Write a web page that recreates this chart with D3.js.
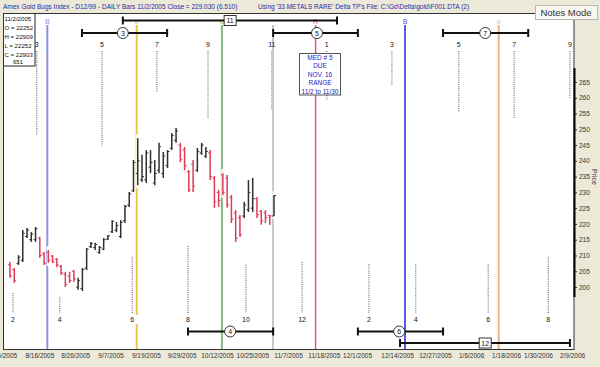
<!DOCTYPE html>
<html>
<head>
<meta charset="utf-8">
<script src="https://cdn.jsdelivr.net/npm/d3@7"></script>
<style>
  body { margin: 0; background: #ECE9D8; }
  svg { display: block; font-family: "Liberation Sans", Arial, sans-serif; }
</style>
</head>
<body>
<svg id="chart" width="600" height="367"></svg>
<script>
'use strict';

// daily bars, 8/5/2005 .. 11/2/2005
const barOpen  = [207.0,205.5,207.5,208.5,216.0,215.0,215.0,215.5,210.5,211.0,209.8,208.8,206.5,204.0,203.5,205.0,200.0,199.5,206.0,212.8,212.5,211.0,212.0,215.2,217.5,218.0,216.0,221.0,226.0,230.5,236.0,234.0,234.0,238.0,233.0,237.0,236.0,238.5,244.0,246.5,245.0,243.5,236.5,239.0,237.0,242.5,241.5,242.5,234.5,230.0,235.5,234.5,228.5,223.5,222.0,222.5,224.5,225.0,228.0,224.0,223.5,222.7,222.52];
const barHigh  = [207.9,206.0,210.1,218.1,218.7,217.4,219.0,215.9,211.1,211.7,210.1,209.2,207.0,204.8,204.8,205.4,202.9,206.0,212.4,214.3,214.0,213.0,215.5,216.5,221.2,220.6,221.2,226.0,230.1,240.3,247.2,241.9,243.4,243.4,240.3,245.7,242.8,243.4,248.8,250.4,245.7,244.4,237.1,240.3,244.1,245.7,244.4,243.4,235.2,230.8,236.1,235.5,229.2,224.4,222.8,227.0,233.9,234.6,228.5,224.4,224.4,222.8,229.09];
const barLow   = [202.9,201.3,207.0,207.9,215.5,214.3,214.3,209.2,207.0,207.6,207.6,206.3,203.8,200.0,201.3,201.6,199.1,198.7,205.4,212.4,211.7,210.5,211.7,214.9,217.1,217.4,215.5,220.3,225.4,230.1,232.3,233.3,233.0,236.1,232.3,236.1,234.6,237.7,243.4,245.7,239.6,237.1,230.1,230.1,236.5,241.9,240.9,233.9,225.1,225.4,229.2,225.1,220.3,214.3,215.9,221.9,223.8,223.8,221.9,219.7,220.3,219.7,222.52];
const barClose = [203.5,202.0,209.5,217.0,218.0,216.8,218.5,210.0,207.5,208.5,208.0,207.0,204.5,200.8,202.0,202.5,202.0,205.5,212.0,213.8,213.5,212.5,215.0,216.2,220.8,219.5,220.5,225.5,229.5,239.5,240.0,235.0,242.5,239.5,236.0,244.5,241.5,243.0,248.0,249.5,240.5,238.5,230.8,232.0,243.0,245.0,243.0,235.0,227.0,227.5,230.0,226.0,221.5,215.5,216.5,226.0,230.0,228.0,223.0,221.0,222.0,222.52,229.03];

// x axis labels and where they sit, in bar numbers
const dateLabels = ["8/5/2005","8/16/2005","8/26/2005","9/7/2005","9/19/2005","9/29/2005","10/12/2005","10/25/2005","11/7/2005","11/18/2005","12/1/2005","12/14/2005","12/27/2005","1/6/2006","1/18/2006","1/30/2006","2/9/2006"];
const dateIdx    = [-1.4,6.9,15.3,23.6,31.9,40.3,48.6,56.9,65.3,73.7,81.5,90.9,99.8,108.3,116.5,124.0,132.0];

const priceTicks = [200,205,210,215,220,225,230,235,240,245,250,255,260,265];

// turning point lines
const tpIdx   = [9, 30, 50, 62, 72, 93, 115];
const tpMark  = ["B", "o", "o", "", "R", "B", "o"];

// cycle counts (top row odd, bottom row even) with dotted extent in price
const topNums   = ["3","5","7","9","11","1","3","5","7","9"];
const topIdx    = [6.3,21.6,34.5,46.5,61.5,74.4,89.7,105.4,118.4,131.5];
const topDotEnd = [248.2,244.7,261.8,253.6,256.1,259.3,264.0,255.5,253.6,259.9];
const botNums   = ["2","4","6","8","10","12","2","4","6","8"];
const botIdx    = [0.7,11.7,28.7,41.8,55.4,68.6,84.3,95.3,112.3,126.4];
const botDotTop = [198.1,196.8,209.5,213.0,207.0,207.9,207.3,207.3,207.3,209.5];

// time bands
const bandLabel = ["11","3","5","7","4","6","12"];
const bandRow   = [0, 1, 1, 1, 2, 2, 3];
const bandStart = [26.5,16.9,61.8,101.7,41.8,81.7,91.6];
const bandEnd   = [76.8,36.9,81.7,121.7,61.8,101.7,131.5];
const bandMid   = [51.7,26.5,72.1,111.6,51.7,91.4,111.6];

const infoLines = ["11/2/2005","O = 22252","H = 22909","L = 22252","C = 22903"];
const medLines  = ["MED # 5","DUE","NOV. 16","RANGE","11/2 to 11/30"];

const svg = d3.select("#chart");
const frame = {left: 3, right: 574, top: 13, bottom: 349};

let x = d3.scaleLinear().domain([0, 62]).range([10, 274]);
let y = d3.scaleLinear().domain([200, 265]).range([287, 82]);

// title strip
svg.append("rect").attr("width", 600).attr("height", 367).attr("fill", "#ECE9D8");
svg.append("text").attr("x", 3).attr("y", 8.5)
	.attr("font-size", 6.5).attr("fill", "#2a2aa8")
	.text("Amex Gold Bugs Index - D12/99  - DAILY Bars  11/2/2005 Close = 229.030 (6.510)");
svg.append("text").attr("x", 258).attr("y", 8.5)
	.attr("font-size", 6.5).attr("fill", "#2a2aa8")
	.text("Using '33 METALS RARE' Delta TP's      File: C:\\Gd\\Delta\\gold\\F001.DTA (2)");

// plot area
svg.append("rect")
	.attr("x", frame.left).attr("y", frame.top)
	.attr("width", frame.right - frame.left).attr("height", frame.bottom - frame.top)
	.attr("fill", "#fff");

let g = svg.append("g");

// dotted count lines
let dots = g.append("g").attr("stroke", "#555").attr("stroke-width", 1).attr("stroke-dasharray", "1,1.2");
topIdx.forEach(function (d, i) {
	dots.append("line").attr("x1", x(d)).attr("x2", x(d)).attr("y1", 51).attr("y2", y(topDotEnd[i]));
});
botIdx.forEach(function (d, i) {
	dots.append("line").attr("x1", x(d)).attr("x2", x(d)).attr("y1", y(botDotTop[i])).attr("y2", 313);
});

// turning point lines
const tpColors = ["#9090e0", "#f0c24e", "#84b884", "#c8c8c8", "#e2587a", "#5858e6", "#f0b484"];
tpIdx.forEach(function (d, i) {
	g.append("line")
		.attr("x1", x(d) - 1).attr("x2", x(d) - 1)
		.attr("y1", 25).attr("y2", frame.bottom)
		.attr("stroke", tpColors[i]).attr("stroke-width", i == 4 ? 1.5 : 2);
	if (tpMark[i]) {
		g.append("text").attr("x", x(d) - 1).attr("y", 24)
			.attr("text-anchor", "middle").attr("font-size", 7)
			.attr("fill", tpColors[i]).text(tpMark[i]);
	}
});

// cycle numbers
let nums = g.append("g").attr("font-size", 7).attr("text-anchor", "middle").attr("fill", "#111");
topIdx.forEach(function (d, i) {
	nums.append("text").attr("x", x(d)).attr("y", 47).text(topNums[i]);
});
botIdx.forEach(function (d, i) {
	nums.append("rect").attr("x", x(d) - 6).attr("y", 315).attr("width", 12).attr("height", 9).attr("fill", "#fff");
	nums.append("text").attr("x", x(d)).attr("y", 322).text(botNums[i]);
});

// bars
let bars = g.append("g");
barHigh.forEach(function (h, i) {
	bars.append("line")
		.attr("x1", x(i)).attr("x2", x(i))
		.attr("y1", y(h) - 4).attr("y2", y(barLow[i]) + 3)
		.attr("stroke", "#fff").attr("stroke-width", 3);
});
barHigh.forEach(function (h, i) {
	let col = barClose[i] < barOpen[i] ? "#e03a56" : "#303030";
	let b = bars.append("g").attr("stroke", col).attr("stroke-width", 1.5);
	b.append("line").attr("x1", x(i)).attr("x2", x(i)).attr("y1", y(h)).attr("y2", y(barLow[i]));
	b.append("line").attr("x1", x(i) - 2).attr("x2", x(i)).attr("y1", y(barOpen[i])).attr("y2", y(barOpen[i])).attr("stroke-width", 1);
	b.append("line").attr("x1", x(i)).attr("x2", x(i) + 2).attr("y1", y(barClose[i])).attr("y2", y(barClose[i])).attr("stroke-width", 1);
});

// time bands
const bandY = [20.5, 33, 331.5, 343];
let bands = g.append("g");
bandLabel.forEach(function (lab, i) {
	let yy = bandY[bandRow[i]];
	let x0 = x(bandStart[i]), x1 = x(bandEnd[i]), xm = x(bandMid[i]);
	bands.append("line").attr("x1", x0).attr("x2", x1).attr("y1", yy).attr("y2", yy)
		.attr("stroke", "#111").attr("stroke-width", 2);
	[x0, x1].forEach(function (xe) {
		bands.append("line").attr("x1", xe).attr("x2", xe).attr("y1", yy - 4).attr("y2", yy + 4)
			.attr("stroke", "#111").attr("stroke-width", 2);
	});
	if (+lab > 10) {
		bands.append("rect").attr("x", xm - 6).attr("y", yy - 5).attr("width", 12).attr("height", 10)
			.attr("fill", "#fff").attr("stroke", "#333").attr("stroke-width", 1);
	} else {
		bands.append("circle").attr("cx", xm).attr("cy", yy).attr("r", 5.5)
			.attr("fill", "#fff").attr("stroke", "#333").attr("stroke-width", 1);
	}
	bands.append("text").attr("x", xm).attr("y", yy + 2.6)
		.attr("text-anchor", "middle").attr("font-size", 7).attr("fill", "#111").text(lab);
});

// MED note
let med = g.append("g");
med.append("rect").attr("x", 299.5).attr("y", 53.5).attr("width", 41).attr("height", 41.5)
	.attr("fill", "#fff").attr("stroke", "#555");
medLines.forEach(function (t, i) {
	med.append("text").attr("x", 320).attr("y", 60 + i * 8.4)
		.attr("text-anchor", "middle").attr("font-size", 6.5).attr("fill", "#2323c0").text(t);
});

// info box
let info = g.append("g");
info.append("rect").attr("x", 3.5).attr("y", 13.5).attr("width", 31.5).attr("height", 52.5)
	.attr("fill", "#fff").attr("stroke", "#222");
infoLines.forEach(function (t, i) {
	info.append("text").attr("x", 4.5).attr("y", 21 + i * 9)
		.attr("font-size", 6.1).attr("fill", "#111").text(t);
});
info.append("text").attr("x", 18).attr("y", 64).attr("text-anchor", "middle")
	.attr("font-size", 6.1).attr("fill", "#111").text("651");

// frame
svg.append("rect")
	.attr("x", frame.left + 0.5).attr("y", frame.top + 0.5)
	.attr("width", frame.right - frame.left - 0.5).attr("height", frame.bottom - frame.top)
	.attr("fill", "none").attr("stroke", "#333");

// price axis
let yAxis = svg.append("g")
	.attr("transform", "translate(" + frame.right + ",0)")
	.call(d3.axisRight(y).tickValues(priceTicks).tickSize(3).tickPadding(2));
yAxis.select(".domain").remove();
yAxis.selectAll("text").attr("font-size", 6.5).attr("fill", "#333").attr("font-family", "Liberation Sans, Arial");
yAxis.selectAll("line").attr("stroke", "#333");
svg.append("line").attr("x1", frame.right + 0.5).attr("x2", frame.right + 0.5)
	.attr("y1", y(196.8)).attr("y2", y(269.4)).attr("stroke", "#000").attr("stroke-width", 2);
svg.append("text").attr("transform", "translate(592,177) rotate(90)")
	.attr("text-anchor", "middle").attr("font-size", 7).attr("fill", "#333").text("Price");

// date axis
let xAxis = svg.append("g")
	.attr("transform", "translate(0," + frame.bottom + ")")
	.call(d3.axisBottom(x).tickValues(dateIdx).tickSize(0).tickPadding(4)
		.tickFormat(function (d, i) { return dateLabels[i]; }));
xAxis.select(".domain").remove();
xAxis.selectAll("text").attr("font-size", 6.5).attr("fill", "#333").attr("font-family", "Liberation Sans, Arial");

// notes mode button
svg.append("rect").attr("x", 535.5).attr("y", 5.5).attr("width", 62).attr("height", 14)
	.attr("fill", "#f6f6f2").attr("stroke", "#b8b8b0");
svg.append("text").attr("x", 566).attr("y", 16).attr("text-anchor", "middle")
	.attr("font-size", 9.5).attr("fill", "#333").text("Notes Mode");
</script>
</body>
</html>
